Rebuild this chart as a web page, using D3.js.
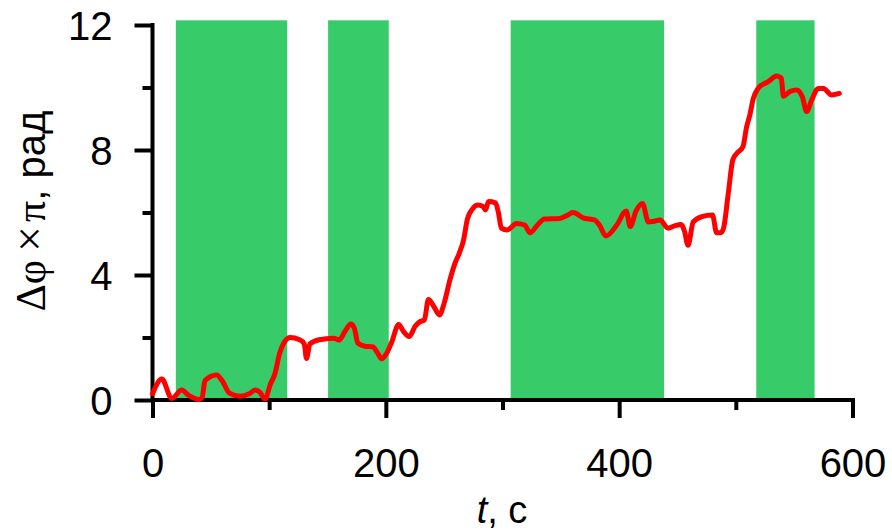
<!DOCTYPE html>
<html>
<head>
<meta charset="utf-8">
<script src="https://cdn.jsdelivr.net/npm/d3@7/dist/d3.min.js"></script>
<style>
  html, body { margin: 0; padding: 0; background: #fff; }
  svg { display: block; }
</style>
</head>
<body>
<svg id="chart" width="892" height="532"></svg>
<script>
// Phase difference over time, with shaded exposure intervals
const timeSec = [0, 8, 16.5, 25, 31, 40, 42.5, 45, 55, 60, 66, 75, 83, 88, 92, 96.5, 101, 105, 109, 113,
  118, 126, 130, 132, 135, 143, 155, 160, 165, 170, 173, 176, 182, 189, 193, 196.5, 200, 205, 211, 215,
  220, 225, 229, 233, 236.5, 241, 246, 250, 255, 259, 263, 266.5, 270, 274, 279, 283, 285.5, 288, 294, 296.5,
  299, 304, 312, 319, 323.6, 330, 336, 349, 355, 360.5, 369, 379, 383, 388.7, 398, 406, 409.5, 414.5, 420, 425,
  430, 435, 442, 448, 453, 456, 459, 463.5, 471, 480, 483.5, 487, 489.5, 493.5, 497.5, 501, 506, 509.3, 512, 515,
  519, 527.8, 535, 539, 540.7, 546.4, 552, 557, 560.7, 565, 570.7, 575, 582, 588.7];
const phaseRad = [0.2, 0.67, 0.05, 0.32, 0.15, 0.02, 0.08, 0.62, 0.8, 0.6, 0.22, 0.12, 0.2, 0.32, 0.25, 0.03, 0.5, 0.85, 1.5, 1.85,
  2.0, 1.93, 1.8, 1.33, 1.8, 1.93, 1.98, 1.92, 2.2, 2.43, 2.3, 1.82, 1.72, 1.7, 1.5, 1.32, 1.45, 1.85, 2.42, 2.2,
  2.03, 2.35, 2.5, 2.56, 3.22, 3.0, 2.72, 3.1, 3.85, 4.35, 4.7, 5.1, 5.8, 6.1, 6.24, 6.2, 6.08, 6.35, 6.31, 6.0,
  5.5, 5.44, 5.65, 5.6, 5.35, 5.6, 5.79, 5.81, 5.9, 6.0, 5.83, 5.76, 5.6, 5.25, 5.6, 6.05, 5.55, 6.05, 6.29, 5.7,
  5.72, 5.76, 5.5, 5.58, 5.62, 5.4, 4.95, 5.7, 5.87, 5.92, 5.35, 5.35, 5.5, 6.6, 7.7, 7.9, 8.1, 8.75, 9.12, 9.65,
  9.97, 10.19, 10.37, 10.3, 9.72, 9.87, 9.92, 9.7, 9.23, 9.6, 9.97, 9.97, 9.76, 9.81];

// Shaded intervals [start, end] in seconds
const intervalStart = [20, 150.5, 307, 517.5];
const intervalEnd = [115.5, 202.5, 438.5, 567.5];
const intervalTop = 12.15;

const xMajorTicks = [0, 200, 400, 600];
const xMinorTicks = [100, 300, 500];
const yMajorTicks = [0, 4, 8, 12];
const yMinorTicks = [2, 6, 10];

const svg = d3.select("#chart");
const x = d3.scaleLinear().domain([0, 600]).range([152.5, 852.5]);
const y = d3.scaleLinear().domain([0, 12]).range([400, 25]);

const sans = "'Liberation Sans', Arial, sans-serif";
const serif = "'Liberation Serif', 'Times New Roman', serif";

// Shaded intervals
svg.append("g").selectAll("rect")
  .data(intervalStart.map((s, i) => ({ s, e: intervalEnd[i] })))
  .join("rect")
  .attr("x", d => x(d.s))
  .attr("width", d => x(d.e) - x(d.s))
  .attr("y", y(intervalTop))
  .attr("height", y(0) - y(intervalTop))
  .attr("fill", "#37cb6a");

// Axes
const axisW = 4;
const xAxis = svg.append("g").attr("transform", `translate(0,${y(0)})`);
xAxis.call(d3.axisBottom(x).tickValues(xMajorTicks).tickSize(18).tickFormat(d3.format("d")));
const xMinor = svg.append("g").attr("transform", `translate(0,${y(0)})`);
xMinor.call(d3.axisBottom(x).tickValues(xMinorTicks).tickSize(10).tickFormat(""));
xMinor.select(".domain").remove();

const yAxis = svg.append("g").attr("transform", `translate(${x(0)},0)`);
yAxis.call(d3.axisLeft(y).tickValues(yMajorTicks).tickSize(18).tickFormat(d3.format("d")));
const yMinor = svg.append("g").attr("transform", `translate(${x(0)},0)`);
yMinor.call(d3.axisLeft(y).tickValues(yMinorTicks).tickSize(10).tickFormat(""));
yMinor.select(".domain").remove();

// Replace domain paths with plain lines
xAxis.select(".domain").remove();
yAxis.select(".domain").remove();
svg.append("line").attr("x1", x(0) - axisW / 2).attr("x2", 855).attr("y1", y(0)).attr("y2", y(0))
  .attr("stroke", "#000").attr("stroke-width", axisW);
svg.append("line").attr("x1", x(0)).attr("x2", x(0)).attr("y1", y(12) - axisW / 2).attr("y2", y(0))
  .attr("stroke", "#000").attr("stroke-width", axisW);

svg.selectAll(".tick line").attr("stroke", "#000").attr("stroke-width", axisW);
svg.selectAll(".tick text").attr("font-family", sans).attr("font-size", 40).attr("fill", "#000");
xAxis.selectAll(".tick text").attr("y", 0).attr("dy", 0).attr("transform", "translate(0,77)");
yAxis.selectAll(".tick text").attr("x", -40).attr("dy", "0.36em");

// Phase curve
const line = d3.line()
  .x((d, i) => x(timeSec[i]))
  .y(d => y(d))
  .curve(d3.curveMonotoneX);
svg.append("path")
  .datum(phaseRad)
  .attr("d", line)
  .attr("fill", "none")
  .attr("stroke", "#ff0000")
  .attr("stroke-width", 5)
  .attr("stroke-linejoin", "round")
  .attr("stroke-linecap", "round");

// Axis titles
const xt = svg.append("text")
  .attr("x", 502).attr("y", 523)
  .attr("text-anchor", "middle")
  .attr("font-family", sans).attr("font-size", 38).attr("fill", "#000");
xt.append("tspan").attr("font-style", "italic").text("t");
xt.append("tspan").text(", с");

const yt = svg.append("text")
  .attr("transform", "translate(45,211) rotate(-90)")
  .attr("text-anchor", "middle")
  .attr("font-size", 40).attr("fill", "#000");
yt.append("tspan").attr("font-family", serif).attr("font-size", 42).text("Δφ");
yt.append("tspan").attr("font-family", serif).attr("font-size", 46).attr("dx", 8).text("×");
yt.append("tspan").attr("font-family", serif).attr("font-size", 42).attr("dx", 4).text("π");
yt.append("tspan").attr("font-family", sans).text(", рад");
</script>
</body>
</html>
